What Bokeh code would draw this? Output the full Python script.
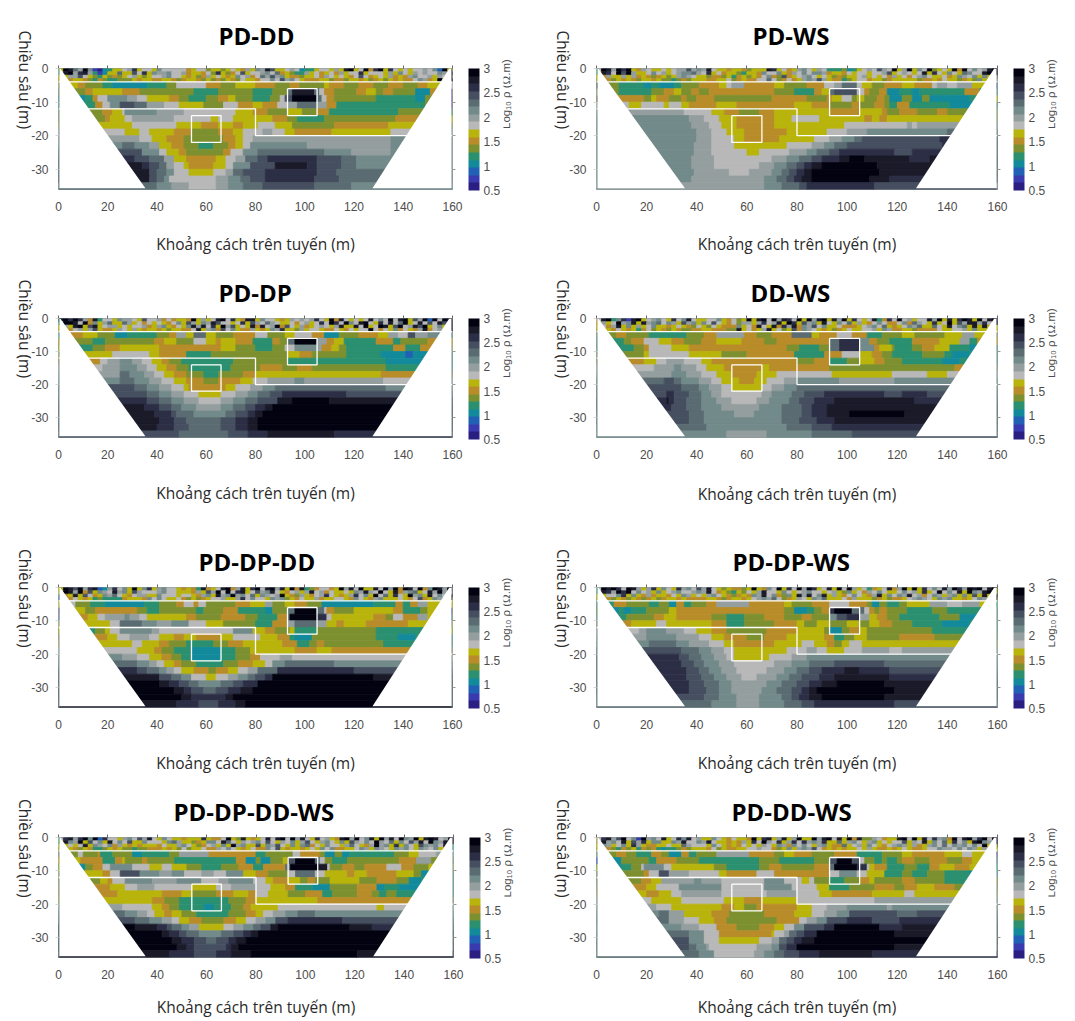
from bokeh.plotting import figure
from bokeh.layouts import column, row
from bokeh.models import (ColumnDataSource, LinearColorMapper, ColorBar, FixedTicker, LinearAxis,
                          Title, Range1d)
from bokeh.transform import transform
from bokeh.embed import file_html
from bokeh.resources import INLINE
import math

# Colour bands of the log10(resistivity) scale, low to high
BAND_COLORS = ["#2b1e82", "#3a3ab0", "#2060b5", "#128a9c", "#2a9070", "#7d9030", "#b98c2a", "#b8b40c",
               "#b8b8b8", "#949e9e", "#728a8a", "#5a6c72", "#454f60", "#2c2e46", "#1a1a28", "#020210"]
CB_TICKS = [0.5, 1, 1.5, 2, 2.5, 3]
X_TICKS = [0, 20, 40, 60, 80, 100, 120, 140, 160]
Y_TICKS = [0, -10, -20, -30]
X_LABEL = "Khoảng cách trên tuyến (m)"
Y_LABEL = "Chiều sâu (m)"
CB_LABEL = "Log₁₀ ρ (Ω.m)"

# Outline of the section (white mask outside the measured trapezoid)
MASK_LEFT_X = [0, 0.7, 35.3, 0]
MASK_LEFT_Y = [0, 0, -35.6, -35.6]
MASK_RIGHT_X = [158.7, 160, 160, 127.5]
MASK_RIGHT_Y = [0, 0, -35.6, -35.6]
# White interpretation lines
LINE_TOP = ([0, 160], [-4, -4])
LINE_STEP = ([0, 80, 80, 160], [-12, -12, -20, -20])
BOX_A = ([54, 66, 66, 54, 54], [-14, -14, -22, -22, -14])
BOX_B = ([93, 105, 105, 93, 93], [-6, -6, -14, -14, -6])

# Data: hex char = colour band. *_TOP: rows 1 m thick of 2 m cells (0..-4 m).
# *_ROWS: rows 2 m thick (-4..-36 m) as band@x_end runs.
PD_DD_TOP = ["7feb9fa10347789d7887a8888867885775787697a9ec77898344788797ef78f6df7d87878898a2f7",
             "8ef9de941377b77c8d7a99a889677685d7568c7889a8b6754497867869788d7888797a8798988a9e",
             "7799c87547565789757889a8876756978767a8968b9c9a766577869878768c8678796769a8897987",
             "6767765465445557677667765677657565765877688a8c9a8766677566577675675767668a967f6f"]
PD_DD_ROWS = ["7@8 6@11 5@18 4@22 3@36 4@44 5@48 8@60 6@66 5@72 7@80 6@88 5@94 6@98 5@108 7@110 6@116 5@122 6@128 5@134 6@140 5@146 6@150 7@156 8@160",
 "5@11 6@14 7@26 6@33 5@55 4@65 5@79 4@87 5@93 b@95 e@104 b@106 8@108 6@112 5@121 6@125 7@129 5@132 6@136 5@145 3@151 6@156 7@160",
 "3@11 4@14 6@16 8@20 a@28 9@32 8@36 7@45 6@49 5@53 4@60 5@65 6@69 7@72 5@79 4@86 5@90 8@92 c@95 f@105 b@107 8@109 6@112 5@129 4@145 3@149 5@152 6@160",
 "4@15 6@18 8@21 a@25 c@31 b@36 9@43 8@49 7@59 5@67 8@73 6@79 7@83 6@89 8@93 9@97 b@105 9@109 6@113 4@149 5@152 6@156",
 "5@18 6@22 7@26 8@27 a@40 9@51 8@72 7@79 6@85 5@93 7@99 5@105 6@110 4@138 5@146",
 "5@19 6@21 7@27 8@30 9@47 8@62 7@65 8@71 7@79 7@87 6@93 5@97 4@108 5@137 6@146",
 "7@30 8@48 7@58 6@65 7@71 6@75 7@79 7@81 8@88 7@95 5@112 6@134 7@144",
 "8@27 7@33 8@37 7@47 6@54 5@65 6@71 7@75 8@83 9@87 8@92 7@96 6@111 7@135 8@142",
 "9@33 8@38 7@44 6@51 5@67 6@72 7@75 8@79 9@135 a@140",
 "a@26 b@31 a@37 9@41 7@46 6@51 5@57 4@63 5@69 6@72 7@75 8@78 a@101 9@135 a@140",
 "c@34 a@41 8@44 7@49 6@52 5@67 6@70 8@75 a@81 b@108 a@119 9@135 a@140",
 "d@31 c@37 b@43 9@47 7@52 6@64 7@68 8@72 9@76 b@81 c@85 d@105 c@115 b@121 a@140",
 "e@34 d@37 c@41 b@44 9@47 8@51 7@53 6@63 7@68 8@71 a@78 c@88 e@101 d@105 c@115 b@121 a@135",
 "e@37 c@40 b@44 a@47 8@53 7@63 8@68 9@71 b@75 c@84 d@105 c@113 b@132",
 "e@37 c@40 b@43 a@45 8@64 9@69 a@74 b@78 c@84 d@104 c@114 b@131",
 "b@40 a@46 9@53 8@64 9@69 a@75 b@83 c@104 b@119 a@128"]
PD_DD_EDGE = ("47aaaaaaaaaaaaaaaa", "ee811147aaaaaaaaaa")

PD_WS_TOP = ["8fe9fdf76987787899c9a9e87767765777ed78679a87984445347898c98f79f7a8f5787f6f8a89ef",
             "7ed8fcf9778a89789aab98d7867754776a88a7698a8aa9677687887889c789878e7d87a87ba88eff",
             "76977979676567579a9877566574675768a65c6789a8787565778978786978689a877867a98a7a7e",
             "5665767657767554565777667785676688b8568679a9c9766457886775677777566768775675a765"]
PD_WS_ROWS = ["5@9 4@19 3@22 4@25 3@31 4@34 5@41 6@49 7@52 8@54 9@59 6@71 7@75 5@84 6@91 8@95 9@98 b@104 8@106 7@110 5@115 6@122 7@127 6@134 8@136 9@140 8@144 9@150 7@155 6@160",
 "5@9 4@22 5@27 6@31 7@34 5@38 6@41 5@45 6@71 5@79 4@87 6@90 7@93 b@95 c@104 8@107 6@109 5@113 6@116 3@121 4@126 3@129 4@147 6@153 4@160",
 "6@19 5@22 7@24 6@29 5@34 6@36 5@40 6@47 5@70 6@84 5@92 6@94 7@98 8@102 5@104 7@107 5@112 6@115 5@117 3@122 5@126 3@130 5@133 3@149 4@152 5@160",
 "8@13 7@18 8@27 7@29 8@34 7@37 6@48 7@56 6@79 7@86 6@93 5@102 6@105 5@111 6@115 5@117 4@120 6@125 4@141 3@150 4@155",
 "9@35 8@46 7@51 6@57 5@65 6@71 7@93 6@105 7@114 6@116 5@121 6@128 5@136 6@140 5@149 7@155",
 "a@37 9@43 8@49 7@56 6@71 7@78 8@89 7@107 6@110 7@113 6@116 7@147",
 "a@38 9@45 8@50 7@56 6@71 7@99 8@124 9@126 8@128 9@145",
 "a@40 9@46 8@52 7@59 6@76 7@92 8@100 9@108 a@140 b@145",
 "a@40 9@46 8@55 7@59 6@73 7@87 8@93 9@98 a@103 b@106 c@137 d@142",
 "a@39 9@46 8@55 7@76 8@86 9@91 a@95 b@100 c@138 d@145",
 "a@39 9@46 8@60 7@65 8@77 9@84 a@88 b@93 c@97 d@119 c@126 d@140",
 "a@38 9@47 8@70 9@76 a@81 b@86 c@90 d@97 e@101 f@107 e@125 d@133 e@140",
 "a@38 9@47 8@65 9@71 a@76 b@80 c@83 d@86 e@90 f@112 e@135",
 "a@39 9@53 8@61 9@70 a@74 b@77 c@80 d@83 e@86 f@113 e@135",
 "a@38 9@67 a@72 b@76 c@79 d@82 e@86 f@109 e@117 d@130",
 "9@67 a@74 b@81 c@84 d@111 c@130"]
PD_WS_EDGE = ("47c9b9aaaaaaaaaaaa", "e92a7aaaaaaaaaaaa8")

PD_DP_TOP = ["efdfd96e4887a9987c889686776f7978ef8d76ee7a8876798989d87f6e87878e8a8f8ef7c9f2f8fe",
             "9ffe8f6a79b77b9786878768a7c97a9ec8878d7c98b9877868978d8fd8fa8ef87d8e8bf78e8c8ece",
             "797ef7ce7899787889679a7687ae9e8d7f9c787e6e89f6c8796789879e77e8f78fe7cf89ecf78a7f",
             "6768979c76679879767767577668e79a6c8a7669767a9d77597887668768788f8687a68769e6897f"]
PD_DP_ROWS = ["8@5 6@10 7@16 5@23 3@28 4@34 4@40 5@45 6@48 9@52 7@55 b@60 7@64 5@71 6@80 8@85 5@92 7@96 8@103 6@108 3@114 5@122 6@130 7@134 9@138 8@142 c@145 9@150 a@156 7@160",
 "5@14 4@19 5@39 6@43 7@48 5@55 8@60 7@64 6@66 7@72 6@79 4@87 6@90 5@93 b@96 f@105 9@109 6@112 7@116 4@129 6@136 4@139 5@150 6@156",
 "4@14 5@19 6@25 7@41 6@66 7@72 5@80 4@87 5@92 8@96 a@105 9@107 6@111 7@114 5@117 4@136 6@141 4@147 6@152 7@160",
 "7@22 8@37 7@41 6@52 4@62 5@79 5@93 7@98 6@103 5@117 4@131 3@141 2@144 3@150 4@160",
 "6@17 8@20 9@25 a@30 9@34 8@38 7@42 6@45 5@50 4@71 5@93 4@133 3@147",
 "8@18 9@25 a@32 9@36 8@40 7@44 6@48 5@53 4@70 5@82 6@91 5@97 6@103 5@133 4@146",
 "9@25 b@29 a@35 9@39 8@43 7@47 6@52 5@59 4@65 5@75 6@80 7@131 6@146",
 "a@25 b@31 a@37 9@42 8@47 7@52 6@59 5@65 6@74 7@79 8@85 9@96 a@100 9@132 8@145",
 "c@31 b@36 a@41 9@46 8@51 7@53 6@68 7@72 8@78 9@83 a@88 b@133 a@145",
 "c@36 b@41 a@46 9@51 8@57 7@66 8@72 9@77 a@81 b@86 c@91 d@117 c@140",
 "d@36 c@41 b@46 a@51 9@57 8@66 9@71 a@76 b@81 c@89 e@95 f@110 e@140",
 "e@35 d@41 c@46 b@50 a@56 9@66 a@71 b@76 c@80 d@84 e@87 f@140",
 "e@39 d@46 c@48 b@55 a@68 b@72 c@77 d@80 e@83 f@140",
 "e@41 d@47 c@52 b@66 c@72 d@77 e@81 f@140",
 "e@40 d@47 c@53 b@66 c@72 d@77 e@81 f@140",
 "c@49 b@69 c@77 d@85 e@112 d@140"]
PD_DP_EDGE = ("47467aaaaaaaaaaaaa", "ee26aaaaaaaaaaaaaa")

DD_WS_TOP = ["8ef4ad1ef789a87d8ae87788a76857f7ef8f9ed8f7f9ef7e9f7d878e46d8f89788e9f7e7dfe7f8ef",
             "7978f9ae7e9ab8a97c9a7a8c876859979d89e7fd7c9a7e87a8b79768a8668a6b987d78f7c9ee9d8f",
             "6869e7a7978a7767876587587666a786e87e6d9e6a9c8a778666789a8b7678a9b77b87e8ab7e7e77",
             "5676876746857657655667766655e78679e7857c6a987675678778897a96677566668778897a7766"]
DD_WS_ROWS = ["5@8 6@12 5@21 4@36 5@43 6@48 9@59 6@64 5@70 6@78 b@86 7@89 6@96 8@102 6@108 4@114 5@122 7@127 5@139 7@146 9@151 7@155 6@160",
 "4@11 5@14 6@19 8@25 7@30 6@35 5@42 6@48 7@58 6@67 5@72 6@93 b@97 d@105 a@109 6@112 5@117 4@126 6@137 7@145 9@149 4@152 6@160",
 "4@15 5@19 6@21 8@30 7@37 6@76 5@81 4@89 5@93 b@97 d@105 a@111 6@113 7@118 5@119 4@126 5@130 6@135 7@141 4@149 3@153",
 "5@19 7@21 8@37 7@50 5@60 6@79 4@91 6@98 8@105 7@110 6@114 5@118 4@130 5@139 4@142 3@149 4@155",
 "6@19 7@24 8@28 9@35 8@42 7@46 6@80 5@87 6@93 4@100 5@105 7@111 6@115 5@122 4@138 3@145 4@160",
 "8@23 9@31 a@34 9@40 8@44 7@51 6@66 7@69 6@93 5@143 6@146",
 "9@30 a@36 9@42 8@48 7@54 6@64 7@72 8@94 7@118 8@132 7@140 8@146",
 "b@27 c@31 b@34 a@41 9@46 8@50 7@57 6@63 7@68 8@75 9@80 a@97 9@119 a@145",
 "c@34 b@41 a@45 9@50 8@54 7@66 8@70 9@75 a@80 b@141",
 "c@28 d@31 c@37 b@42 a@46 9@50 8@66 9@70 a@78 b@83 c@91 d@115 c@122 d@132 c@140",
 "d@28 e@29 d@31 c@36 b@42 a@48 9@54 8@64 9@69 a@77 b@81 c@87 d@95 e@127 d@140",
 "d@30 c@36 b@42 a@50 9@65 a@74 b@82 c@86 d@92 e@140",
 "c@37 b@43 a@55 9@63 a@74 b@82 c@86 d@92 e@101 f@123 e@140",
 "c@37 b@43 a@74 b@81 c@88 d@95 e@135",
 "b@44 a@76 b@86 c@94 d@135",
 "a@52 9@68 a@86 b@102 c@130"]
DD_WS_EDGE = ("67aaaaaaaaaaaaaaaa", "e7a6aaaaaaaaaaaaaa")

PD_DP_DD_TOP = ["7fecf9de239d8a7f7ad79a8876764e678ef69e7df8ef9e7f6e4568867f9e8f77e8f9f6fe8f6afe9f",
                "8fe9f6c7a98e9a7c98889a88777697c9f8f8de78c9ae8768979e89687787a9e98f87e69ab78e9f9e",
                "767e7c867a9b87689977a888788769a7e9af9a8b7a989f76597689d87679d8a7f8b7d87f9a7e8a8f",
                "566876745444467776a8a8778657567889779d8a887a9a57687796778876a8769a7778768c67a9a7"]
PD_DP_DD_ROWS = ["8@7 5@13 4@19 3@35 4@41 5@48 6@51 8@55 6@57 8@60 5@72 6@78 7@84 9@87 5@92 7@96 6@101 5@107 3@128 4@137 6@140 4@143 6@146 9@150 7@155 6@160",
 "7@11 5@15 6@32 5@36 4@41 5@56 4@59 5@67 6@73 4@84 3@87 5@93 b@96 f@105 b@108 8@109 6@112 5@120 7@136 6@140 4@147 5@150 7@160",
 "6@12 7@16 8@19 9@27 a@29 9@33 8@36 7@52 6@56 5@66 6@76 5@81 4@89 6@93 b@94 f@105 d@109 8@111 7@128 6@133 5@136 8@140 6@146 9@150 7@160",
 "7@21 8@25 b@34 a@40 9@46 a@53 8@60 7@67 5@80 4@87 6@93 9@96 b@105 9@109 7@113 6@116 7@125 6@142 7@156",
 "4@15 5@19 7@21 8@25 a@38 9@41 8@71 a@79 7@84 6@88 5@94 7@96 4@105 5@129 4@146",
 "6@20 7@24 8@29 9@37 8@41 7@47 6@51 7@56 6@66 7@71 8@82 7@89 6@94 4@96 3@103 5@129 4@138 3@145 4@150",
 "7@30 8@34 7@41 6@45 5@52 4@63 5@69 6@75 7@91 6@97 4@102 5@105 6@108 5@132 4@146",
 "8@32 7@39 6@42 5@47 4@54 3@66 4@72 5@78 7@96 6@105 7@111 6@146",
 "a@26 9@32 8@37 7@42 6@46 5@50 4@54 3@66 4@72 5@78 6@82 8@90 9@95 8@146",
 "b@32 a@37 9@40 8@43 7@47 6@50 5@56 4@67 5@73 6@79 7@84 8@87 a@92 b@112 a@140",
 "d@32 c@36 b@41 a@44 9@47 8@50 7@55 6@61 5@64 6@69 7@73 8@77 9@81 b@89 d@120 c@140",
 "e@41 c@46 b@50 a@54 8@60 7@64 8@69 9@73 a@77 b@80 c@84 d@87 f@128 e@140",
 "f@41 e@45 d@49 c@53 b@57 a@66 b@71 c@75 d@81 f@140",
 "f@47 e@51 d@54 c@59 b@64 c@69 d@74 e@79 f@140",
 "f@50 e@54 d@68 e@71 f@140",
 "e@48 d@57 c@65 d@72 e@76 f@140"]
PD_DP_DD_EDGE = ("72712a7aaaaaaaaaaa", "9e712a7aaaaaaaaaaa")

PD_DP_WS_TOP = ["8fefd8fe979d7a87d9a8c9e87576657f76a8f7d8f9fd78e7f8f9784678e69f7f7d8a8e9fd9fef8ef",
                "9ed9fdf8a897a789a889a9e8675475879e887a8789a8878975a78698a8778a897d78f8a8e7fa9eff",
                "7788ad7a769677687a97879a8765676a9e8a65a7e9e8ae79768a8769e7a8a9e8968a979a7a7c7e7e",
                "566576576567567767666677656776789a9b8567987a9b777869777567566789a987a9a77678a966"]
PD_DP_WS_ROWS = ["4@7 6@12 5@21 4@25 5@29 3@32 6@35 4@38 5@44 6@48 9@61 6@75 7@78 5@86 6@93 8@101 6@108 5@110 3@113 5@116 4@121 5@124 7@133 9@140 8@146 9@153 7@160",
 "3@9 4@11 3@14 4@20 5@29 7@32 6@63 6@75 5@79 3@84 4@87 5@90 6@93 d@95 f@102 b@107 8@109 6@111 5@113 6@116 5@124 4@134 5@140 4@155",
 "4@12 5@23 6@27 7@32 6@46 5@52 4@59 5@67 6@75 5@82 6@86 5@93 a@96 c@100 d@105 9@109 7@112 6@116 5@121 4@137 5@145 3@152 4@160",
 "6@14 7@24 8@28 7@46 6@52 4@59 5@71 6@80 7@83 5@88 7@93 5@100 7@105 5@109 7@113 6@118 5@126 4@138 3@149 4@155",
 "8@17 9@20 a@28 9@35 8@40 7@46 6@52 5@68 6@80 7@91 5@93 3@98 5@101 6@105 7@108 5@134 4@147",
 "9@20 a@32 9@41 8@46 7@51 6@60 5@67 6@76 7@91 6@95 4@99 5@103 7@108 5@121 6@135 5@145",
 "a@21 b@32 a@37 9@45 8@51 7@55 6@71 7@82 8@87 7@92 6@95 5@98 7@101 8@106 7@146",
 "c@34 b@41 a@46 9@51 8@55 7@76 8@84 9@88 8@92 7@99 8@106 9@117 8@122 9@146",
 "d@33 c@37 b@42 a@47 9@52 8@55 7@69 8@78 9@84 a@140",
 "d@34 c@39 b@43 a@49 9@55 8@71 9@78 a@85 b@95 c@115 b@140",
 "d@36 c@41 b@45 a@50 9@56 8@68 9@75 a@80 b@85 c@90 d@99 e@105 d@117 c@140",
 "d@36 c@42 b@47 a@52 9@58 8@64 9@72 a@77 b@82 c@89 d@95 e@117 d@140",
 "d@37 c@43 b@49 a@54 9@68 a@74 b@80 c@85 d@90 e@96 f@115 e@140",
 "d@37 c@44 b@49 a@54 9@66 a@72 b@78 c@82 d@85 e@88 f@119 e@140",
 "c@43 b@49 a@56 9@65 a@74 b@78 c@81 d@85 e@90 f@115 e@140",
 "b@46 a@56 9@65 a@75 b@82 c@87 d@119 c@140"]
PD_DP_WS_EDGE = ("47a5aaaaaaaaaaaaaa", "7e3aaaaaaaaaaaaaaa")

PD_DP_DD_WS_TOP = ["8de9dfaf2d8879a8c9e87a8776777d7668f75e7678e8ef8f9e87d8976ef9f8ae7f9e8fa9f7efe89f",
                   "7ea9f7c8a7e8a8c77a8887ab977567aa8eb87989a8c8798a79c879a87a7c98a8f98b7a8c9e8fa9ef",
                   "87878e7a98a69767677768779a8756897a7f9a77c7a9c87a7ab687a8879b8769f9a7d7a87ca9a8e7",
                   "5676576445767554556667675857786698a8767866a8c76776787a8a66778a97a987a9a87a98a769"]
PD_DP_DD_WS_ROWS = ["5@8 8@10 5@16 6@17 4@22 5@30 3@34 4@45 5@49 9@61 6@80 4@84 5@95 8@98 6@106 5@108 3@112 5@115 3@118 4@136 5@142 7@146 8@153 9@160",
 "7@9 6@18 4@23 6@26 7@27 5@34 6@36 5@47 4@72 6@76 3@80 5@82 3@86 5@91 7@93 c@96 f@104 b@106 8@108 5@111 4@117 5@138 6@145 9@151 5@160",
 "3@11 5@14 6@18 8@21 a@30 8@37 7@42 8@46 7@52 5@58 4@66 5@73 6@79 4@83 6@92 b@94 f@105 e@109 8@110 5@115 6@120 5@124 6@133 8@139 6@144 5@150 7@160",
 "7@18 6@21 8@25 c@33 a@41 9@46 a@51 8@58 9@63 8@68 a@75 7@80 6@85 5@93 8@96 b@104 8@108 7@117 6@120 7@125 6@137 7@144 5@147 3@150 4@160",
 "5@17 7@20 6@22 8@27 a@38 9@48 a@58 8@65 9@69 a@79 8@84 7@87 6@93 7@98 5@101 6@104 5@110 7@122 5@129 6@137 5@142 3@147 4@160",
 "6@21 7@27 8@32 9@39 8@54 7@64 8@70 9@80 8@86 7@92 6@96 4@103 3@110 5@121 6@129 3@132 4@138 3@146",
 "6@24 7@42 6@50 7@54 5@64 6@71 7@77 6@80 8@85 7@93 5@100 6@107 4@111 5@121 6@127 5@130 4@133 5@137 4@146",
 "7@38 6@43 5@49 4@69 5@76 6@80 7@105 6@141",
 "9@26 8@38 7@42 6@45 5@49 4@59 3@63 4@70 5@75 6@78 7@89 8@129 7@132 8@141",
 "b@27 a@32 9@36 8@39 7@43 6@46 7@50 5@56 4@69 5@76 6@80 7@83 8@87 9@92 a@97 b@104 a@140",
 "c@31 b@37 a@42 9@46 8@49 7@53 6@58 5@67 6@72 7@76 8@80 9@84 a@88 c@93 d@115 c@140",
 "f@31 e@40 d@44 c@46 b@50 a@53 9@57 7@67 8@71 9@75 a@79 b@82 c@86 e@89 f@118 e@127 d@140",
 "f@42 e@45 d@49 c@52 b@57 a@66 b@71 c@75 d@78 e@81 f@140",
 "f@46 e@50 d@55 c@60 b@64 c@69 d@72 e@76 f@140",
 "f@48 e@52 d@55 c@68 d@70 e@73 f@140",
 "e@45 d@55 c@64 d@70 e@78 f@121 e@140"]
PD_DP_DD_WS_EDGE = ("47a67aaaaaaaaaaaaa", "e3aaaaaaaaaaaaaaac")

PD_DD_WS_TOP = ["8de9cf8a1f9a8e78dae8977a8768776f7de79e79f77f9ef8e7f6e5598677ef8f7e8d9a6f8ef9df8f",
                "9e9a8e7c9d7aa77a9e88a9e87767697d8f98d79d8d9a9d77b79a879a78788c798e7a8b7d8a7efa9e",
                "7a978a7d976677877b98887a876768787987a96a8a879a766b7897a87689a979679a8b8a9a8a8f7f",
                "56654657465643445657776857667788988657a79a9c867676778797667678766788a998a8a97967"]
PD_DD_WS_ROWS = ["5@8 6@12 5@16 4@22 6@26 5@29 3@34 6@37 4@40 5@48 9@61 6@71 5@75 7@79 6@86 5@95 6@104 4@114 5@122 7@126 6@139 7@146 8@150 7@155 6@160",
 "3@10 5@21 4@24 6@32 5@41 4@65 5@73 4@87 5@93 c@96 f@102 c@105 8@107 5@111 4@114 5@116 4@120 5@122 6@127 5@133 6@140 5@146 6@150 7@160",
 "3@10 4@14 5@18 8@19 a@27 8@30 7@47 5@52 4@65 5@69 6@74 5@87 6@93 b@95 f@104 d@108 8@109 7@111 6@116 4@123 5@128 4@133 6@137 7@143 6@149 7@160",
 "5@19 6@21 8@25 c@29 9@37 8@49 7@52 6@64 8@71 6@93 8@97 a@104 8@108 7@115 4@122 5@126 4@132 5@139 4@149 3@155",
 "5@18 6@22 7@26 9@39 a@42 9@50 8@67 a@75 8@82 7@85 8@87 5@93 4@99 5@105 6@109 7@111 5@122 6@127 5@139 4@148",
 "6@20 7@24 8@33 a@50 8@67 a@78 8@88 7@93 4@101 5@111 6@119 5@123 6@128 7@135 6@143 5@146",
 "7@20 6@25 7@30 8@34 9@50 8@68 9@80 8@89 7@94 6@110 7@123 8@127 7@146",
 "8@22 7@34 8@51 7@59 6@66 7@80 8@111 9@146",
 "9@24 8@30 7@50 6@55 7@59 5@64 6@80 7@86 8@92 9@100 a@116 9@118 a@141",
 "a@25 b@29 9@35 7@46 6@53 5@67 6@79 7@86 8@91 9@96 a@101 c@120 b@128 c@140",
 "b@29 9@35 8@41 7@47 6@52 5@72 6@81 8@84 9@88 a@92 c@100 d@110 c@121 d@140",
 "a@34 9@41 8@48 6@56 5@65 6@71 7@75 8@79 a@83 c@91 d@95 f@113 d@122 e@140",
 "b@37 a@43 8@49 6@70 7@71 8@75 9@77 b@80 c@83 d@88 f@119 e@140",
 "c@37 a@43 8@49 7@65 8@70 9@73 b@76 c@79 d@82 e@87 f@135",
 "c@37 b@40 a@44 9@45 8@64 9@70 a@73 c@76 d@80 f@119 e@130",
 "b@41 a@47 8@63 9@67 a@71 b@75 c@81 d@89 e@110 d@130"]
PD_DD_WS_EDGE = ("67a17aaaaaaaaaaaaa", "e7123a6aaaaaaaaaac")

mapper = LinearColorMapper(palette=BAND_COLORS, low=0.5, high=3.0)


def band_value(ch):
    return 0.5 + (int(ch, 16) + 0.5) * 2.5 / 16


def cells(top_rows, rle_rows, edges):
    L, R, T, B, V = [], [], [], [], []
    def add(x0, x1, y0, y1, ch):
        L.append(x0); R.append(x1); T.append(y0); B.append(y1); V.append(band_value(ch))
    for i, s in enumerate(top_rows):
        start = 0
        for j in range(1, len(s) + 1):
            if j == len(s) or s[j] != s[start]:
                add(start * 2, 160 if j == len(s) else j * 2, -i, -i - 1, s[start])
                start = j
    for i, s in enumerate(rle_rows):
        x0 = 0
        runs = s.split()
        for k, run in enumerate(runs):
            ch, xe = run.split("@")
            xe = 160 if k == len(runs) - 1 else float(xe)
            if xe > x0:
                add(x0, xe, -4 - 2 * i, -6 - 2 * i, ch)
                x0 = xe
    E = ([], [], [], [], [])
    for side, s in zip((0, 1), edges):
        for i, ch in enumerate(s):
            E[0].append(0 if side == 0 else 159.6)
            E[1].append(0.4 if side == 0 else 160)
            E[2].append(-2 * i)
            E[3].append(-2 * i - 2)
            E[4].append(band_value(ch))
    return dict(left=L, right=R, top=T, bottom=B, v=V), dict(left=E[0], right=E[1], top=E[2], bottom=E[3], v=E[4])


def panel(title, top_rows, rle_rows, edges, w, h, bl, bt, fw, fh, title_dx, title_standoff, xl_standoff):
    p = figure(width=w, height=h, x_range=Range1d(0, 160), y_range=Range1d(-36, 0),
               output_backend="svg", toolbar_location=None, tools="",
               min_border_left=bl, min_border_top=bt,
               min_border_right=w - bl - fw, min_border_bottom=h - bt - fh,
               outline_line_color="#8a9a9e", outline_line_width=1, background_fill_color="white",
               border_fill_color="white")
    p.grid.visible = False
    cell_d, edge_d = cells(top_rows, rle_rows, edges)
    spec = dict(fill_color=transform("v", mapper), line_color=transform("v", mapper), line_width=0.8)
    p.quad(source=ColumnDataSource(cell_d), **spec)
    p.patch(MASK_LEFT_X, MASK_LEFT_Y, fill_color="white", line_color=None)
    p.patch(MASK_RIGHT_X, MASK_RIGHT_Y, fill_color="white", line_color=None)
    p.quad(source=ColumnDataSource(edge_d), fill_color=transform("v", mapper),
           line_color=None)
    for xs, ys in (LINE_TOP, LINE_STEP, BOX_A, BOX_B):
        p.line(xs, ys, line_color="white", line_width=1.3)

    for ax in (p.xaxis[0], p.yaxis[0]):
        ax.axis_line_color = None
        ax.major_label_text_font = "Liberation Sans"
        ax.major_label_text_font_size = "12px"
        ax.major_label_text_color = "#4d4d4d"
        ax.minor_tick_line_color = None
        ax.major_tick_in = 0
        ax.axis_label_text_font = "Open Sans"
        ax.axis_label_text_font_size = "15.5px"
        ax.axis_label_text_font_style = "normal"
        ax.axis_label_text_color = "#2a2a2a"
    p.xaxis[0].ticker = FixedTicker(ticks=X_TICKS)
    p.yaxis[0].ticker = FixedTicker(ticks=Y_TICKS)
    p.yaxis[0].major_label_overrides = {t: str(t) for t in Y_TICKS}
    p.xaxis[0].major_tick_line_color = None
    p.xaxis[0].major_label_standoff = 6
    p.xaxis[0].axis_label = X_LABEL
    p.xaxis[0].axis_label_standoff = xl_standoff
    p.yaxis[0].major_tick_line_color = "#d8d8d8"
    p.yaxis[0].major_tick_out = 3
    p.yaxis[0].major_label_standoff = 7
    p.yaxis[0].axis_label = Y_LABEL
    p.yaxis[0].axis_label_standoff = 3
    p.yaxis[0].axis_label_orientation = -math.pi / 2
    p.yaxis[0].axis_label_text_align = "center"

    top = LinearAxis(ticker=FixedTicker(ticks=X_TICKS), axis_line_color=None,
                     major_label_overrides={t: "" for t in X_TICKS},
                     major_tick_line_color="#666666", major_tick_in=0, major_tick_out=3,
                     minor_tick_line_color=None)
    right = LinearAxis(ticker=FixedTicker(ticks=Y_TICKS[1:]), axis_line_color=None,
                       major_label_overrides={t: " " for t in Y_TICKS},
                       major_tick_line_color="#999999", major_tick_in=0, major_tick_out=3,
                       minor_tick_line_color=None, major_label_standoff=7)
    p.add_layout(top, "above")
    p.add_layout(Title(text=title, align="left", offset=title_dx, standoff=title_standoff,
                       vertical_align="top",
                       text_font="Open Sans", text_font_style="bold", text_font_size="24px",
                       text_color="#000000"), "above")
    p.add_layout(right, "right")

    cb = ColorBar(color_mapper=mapper, ticker=FixedTicker(ticks=CB_TICKS), width=11, height=fh + 1,
                  padding=0, margin=0, location="top_left", bar_line_color=None,
                  major_tick_line_color=None, minor_tick_line_color=None,
                  major_label_overrides={0.5: "0.5", 1: "1", 1.5: "1.5", 2: "2", 2.5: "2.5", 3: "3"},
                  major_label_text_font="Liberation Sans", major_label_text_font_size="12px",
                  major_label_text_color="#4d4d4d", label_standoff=4)
    p.add_layout(cb, "right")
    cb_axis = LinearAxis(ticker=FixedTicker(ticks=[]), axis_line_color=None, major_tick_line_color=None,
                         minor_tick_line_color=None, axis_label=CB_LABEL, axis_label_standoff=2,
                         axis_label_orientation=math.pi / 2, axis_label_text_align="center",
                         axis_label_text_baseline="middle",
                         axis_label_text_font="Liberation Sans", axis_label_text_font_size="11.5px",
                         axis_label_text_font_style="normal", axis_label_text_color="#4d4d4d")
    p.add_layout(cb_axis, "right")
    return p


LW, RW = 538, 536
r1 = row(panel("PD-DD", PD_DD_TOP, PD_DD_ROWS, PD_DD_EDGE, LW, 265, 53, 68, 399, 121, 160, 24, 19),
         panel("PD-WS", PD_WS_TOP, PD_WS_ROWS, PD_WS_EDGE, RW, 265, 56, 68, 403, 121, 156, 24, 19))
r2 = row(panel("PD-DP", PD_DP_TOP, PD_DP_ROWS, PD_DP_EDGE, LW, 260, 53, 52, 399, 120, 160, 9, 20),
         panel("DD-WS", DD_WS_TOP, DD_WS_ROWS, DD_WS_EDGE, RW, 260, 56, 53, 403, 120, 154, 9, 21))
r3 = row(panel("PD-DP-DD", PD_DP_DD_TOP, PD_DP_DD_ROWS, PD_DP_DD_EDGE, LW, 255, 53, 62, 399, 120, 140, 9, 20),
         panel("PD-DP-WS", PD_DP_WS_TOP, PD_DP_WS_ROWS, PD_DP_WS_EDGE, RW, 255, 56, 62, 403, 120, 136, 9, 20))
r4 = row(panel("PD-DP-DD-WS", PD_DP_DD_WS_TOP, PD_DP_DD_WS_ROWS, PD_DP_DD_WS_EDGE, LW, 241, 55, 57, 398, 120, 115, 10, 14),
         panel("PD-DD-WS", PD_DD_WS_TOP, PD_DD_WS_ROWS, PD_DD_WS_EDGE, RW, 241, 56, 57, 403, 120, 135, 10, 14))
page = column(r1, r2, r3, r4)
open("out.html", "w").write(file_html(page, INLINE))
